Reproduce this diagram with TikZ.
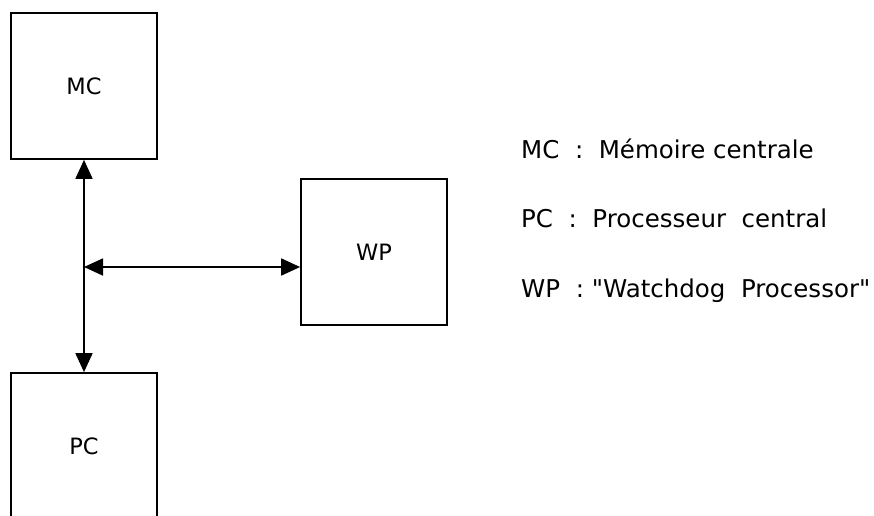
\documentclass[tikz,border=0pt]{standalone}
\usepackage{fontspec}
\setmainfont{DejaVu Sans}[Ligatures=TeXOff]
\usetikzlibrary{arrows.meta}
\begin{document}
\begin{tikzpicture}[x=1pt,y=-1pt,
  unit/.style={draw, line width=1.7pt, minimum width=146pt, minimum height=146pt,
    inner sep=0pt, font=\fontsize{22.5}{26}\selectfont},
  bus/.style={line width=1.7pt, {Triangle[length=19pt,width=17pt]}-{Triangle[length=19pt,width=17pt]}},
  legend/.style={anchor=base west, inner sep=0pt, font=\fontsize{24.5}{28}\selectfont}]
  \useasboundingbox (0,0) rectangle (874,515);
  % functional units
  \node[unit] (mc) at (84,86) {MC};
  \node[unit] (pc) at (84,446) {PC};
  \node[unit] (wp) at (374,252) {WP};
  % shared bus between memory, processor and watchdog
  \draw[bus] (mc.south) -- (pc.north);
  \coordinate (tap) at (84,267);
  \draw[bus] (tap) -- (tap -| wp.west);
  % legend
  \node[legend] (l1) at (521,158) {MC\ \ :\ \ Mémoire centrale};
  \node[legend] (l2) at (521,227) {PC\ \ :\ \ Processeur\ \ central};
  \node[legend] (l3) at (521,297) {WP\ \ : "Watchdog\ \ Processor"};
\end{tikzpicture}
\end{document}
